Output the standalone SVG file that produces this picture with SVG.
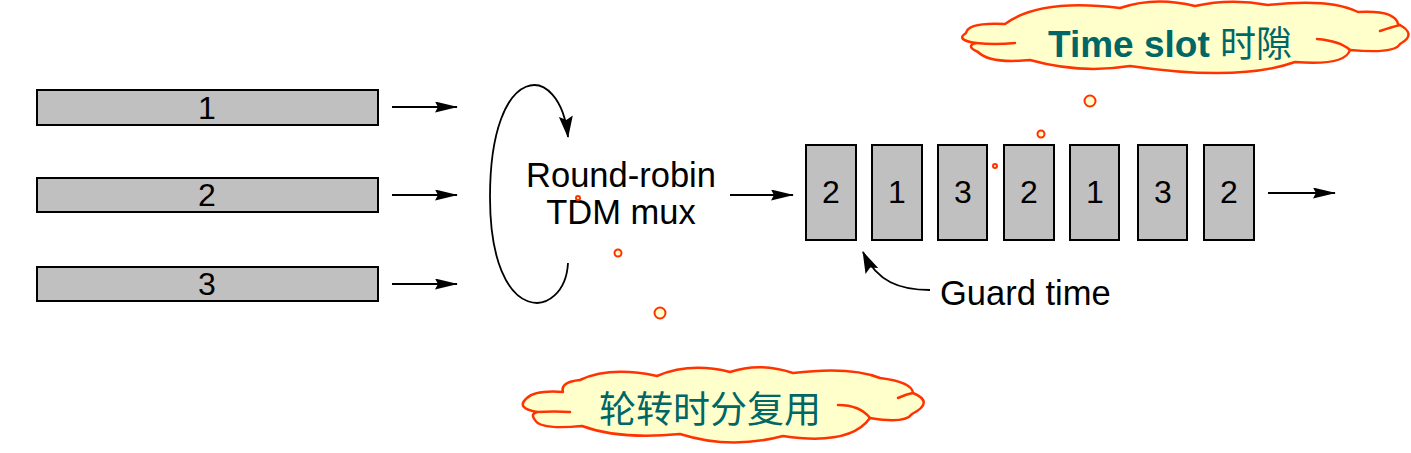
<svg xmlns="http://www.w3.org/2000/svg" width="1411" height="453" viewBox="0 0 1411 453">
<style>
.bar{fill:#C0C0C0;stroke:#000;stroke-width:2}
.num{font-family:"Liberation Sans",Arial,sans-serif;font-size:32px;fill:#000;text-anchor:middle}
.lbl{font-family:"Liberation Sans",Arial,sans-serif;font-size:34.5px;fill:#000}
.ln{fill:none;stroke:#000;stroke-width:1.8}
.cloud{fill:#FFFFCC;stroke:#FF3300;stroke-width:2.5;stroke-linejoin:round}
.inner{fill:none;stroke:#FF3300;stroke-width:2.5;stroke-linecap:round}
.ct{font-family:"Liberation Sans",Arial,"Noto Sans CJK SC",sans-serif;fill:#006666}
.bub{fill:#FFFFCC;stroke:#FF3300;stroke-width:2}
</style>
<defs>
<marker id="ah" markerWidth="23" markerHeight="11" refX="22" refY="5.5" orient="auto" markerUnits="userSpaceOnUse">
<path d="M0,0 L23,5.5 L0,11 L3,5.5 Z" fill="#000"/>
</marker>
<marker id="ahL" markerWidth="22" markerHeight="14" refX="21" refY="7" orient="auto" markerUnits="userSpaceOnUse">
<path d="M0,0 L22,7 L0,14 L4,7 Z" fill="#000"/>
</marker>
</defs>

<g id="input1"><rect class="bar" x="37" y="90" width="341" height="35"/><text class="num" x="207" y="119">1</text></g>
<g id="input2"><rect class="bar" x="37" y="178" width="341" height="34"/><text class="num" x="207" y="206">2</text></g>
<g id="input3"><rect class="bar" x="37" y="267" width="341" height="34"/><text class="num" x="207" y="295">3</text></g>

<g id="mux">
<text class="lbl" x="621" y="187" text-anchor="middle">Round-robin</text>
<text class="lbl" x="621" y="224" text-anchor="middle">TDM mux</text>
</g>

<g id="slots">
<g id="slot1"><rect class="bar" x="806" y="145" width="50" height="95"/><text class="num" x="831" y="203">2</text></g>
<g id="slot2"><rect class="bar" x="872" y="145" width="50" height="95"/><text class="num" x="897" y="203">1</text></g>
<g id="slot3"><rect class="bar" x="938" y="145" width="49" height="95"/><text class="num" x="963" y="203">3</text></g>
<g id="slot4"><rect class="bar" x="1004" y="145" width="50" height="95"/><text class="num" x="1029" y="203">2</text></g>
<g id="slot5"><rect class="bar" x="1070" y="145" width="49" height="95"/><text class="num" x="1095" y="203">1</text></g>
<g id="slot6"><rect class="bar" x="1138" y="145" width="49" height="95"/><text class="num" x="1163" y="203">3</text></g>
<g id="slot7"><rect class="bar" x="1204" y="145" width="50" height="95"/><text class="num" x="1229" y="203">2</text></g>
</g>

<g id="guard"><text class="lbl" x="940" y="305">Guard time</text></g>

<g id="connectors">
<line class="ln" x1="392" y1="107" x2="457" y2="107" marker-end="url(#ah)"/>
<line class="ln" x1="392" y1="195" x2="457" y2="195" marker-end="url(#ah)"/>
<line class="ln" x1="392" y1="284" x2="457" y2="284" marker-end="url(#ah)"/>
<path class="ln" d="M568 263 C565 320 490 330 490 197 C490 60 560 60 568 137" marker-end="url(#ahL)"/>
<line class="ln" x1="730" y1="195" x2="793" y2="195" marker-end="url(#ah)"/>
<line class="ln" x1="1268" y1="193" x2="1335" y2="193" marker-end="url(#ah)"/>
<path class="ln" d="M930 290 C900 290 877 282 863 252" marker-end="url(#ahL)"/>
</g>

<g id="cloud-timeslot">
<path class="cloud" d="M966 33 Q968 22 1005 24 Q1040 -2 1120 8 Q1155 -4 1195 6 Q1230 -2 1268 5 Q1330 -2 1358 12 Q1395 10 1398 24 Q1418 34 1400 44 Q1395 54 1350 50 Q1345 66 1295 62 Q1240 82 1130 66 Q1080 74 1030 60 Q990 64 978 52 Q965 46 976 43 Q955 40 966 33 Z"/>
<path class="inner" d="M976 43 Q995 45 1015 43 M1317 39 Q1340 41 1350 50 M1380 31 Q1392 27 1400 25"/>
<text class="ct" x="1048" y="57" font-size="37" font-weight="bold">Time slot <tspan font-family="'Noto Sans CJK SC',sans-serif" font-weight="normal" font-size="36">时隙</tspan></text>
<circle class="bub" cx="1090" cy="101" r="5.5"/>
<circle class="bub" cx="1041" cy="134" r="3.5"/>
<circle class="bub" cx="995" cy="166" r="2"/>
</g>

<g id="cloud-rr">
<path class="cloud" d="M537 412 Q515 408 527 398 Q535 390 563 392 Q560 382 580 380 Q610 366 657 376 Q690 362 730 372 Q760 362 793 373 Q850 366 880 378 Q912 382 913 393 Q935 402 912 414 Q905 424 870 418 Q850 446 783 436 Q730 450 680 434 Q620 440 582 426 Q540 430 535 420 Q530 414 537 412 Z"/>
<path class="inner" d="M537 412 Q555 411 570 412 M838 405 Q860 405 870 418 M898 398 Q907 394 913 393"/>
<text class="ct" x="710" y="423" font-size="37" text-anchor="middle" font-family="'Noto Sans CJK SC',sans-serif">轮转时分复用</text>
<circle class="bub" cx="578" cy="198" r="2"/>
<circle class="bub" cx="618" cy="253" r="3.5"/>
<circle class="bub" cx="660" cy="313" r="5.5"/>
</g>
</svg>
